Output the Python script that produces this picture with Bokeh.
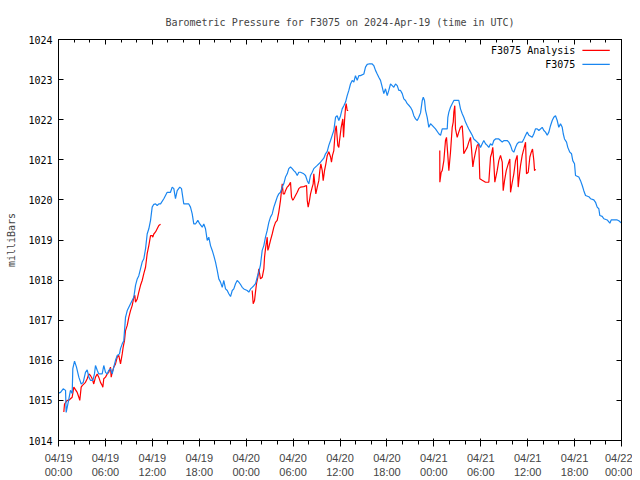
from bokeh.plotting import figure
from bokeh.models import (FixedTicker, LinearAxis, Range1d, Label)
from bokeh.embed import file_html
from bokeh.resources import INLINE

# ---------------- data (hours after 2024-04-19 00:00 UTC, millibars) ----------------
obs_hours = [0.00, 0.26, 0.60, 0.90, 0.98, 1.24, 1.53, 1.75, 1.83, 2.05, 2.30, 2.60, 2.90, 3.16, 3.45,
             3.67, 3.88, 4.09, 4.39, 4.60, 4.73, 4.95, 5.15, 5.59, 5.79, 6.01, 6.23, 6.43, 6.65,
             6.87, 7.07, 7.29, 7.51, 7.80, 7.93, 8.15, 8.35, 8.57, 8.79, 9.21, 9.63, 9.85, 10.07,
             10.27, 10.70, 10.91, 11.13, 11.34, 11.55, 11.77, 11.98, 12.19, 12.41, 12.62, 12.83,
             13.05, 13.47, 13.90, 14.32, 14.54, 14.75, 14.96, 15.18, 15.51, 15.73, 16.02, 16.46,
             16.66, 16.88, 17.10, 17.30, 17.52, 17.82, 18.07, 18.38, 18.58, 18.80, 19.02, 19.22,
             19.44, 19.66, 19.86, 20.08, 20.30, 20.50, 20.72, 20.94, 21.14, 21.36, 21.58, 21.78,
             22.00, 22.22, 22.42, 22.64, 22.85, 23.06, 23.28, 23.49, 23.70, 24.13, 24.34, 24.56,
             24.77, 24.98, 25.20, 25.41, 25.62, 25.83, 26.05, 26.26, 26.47, 26.69, 26.90, 27.11,
             27.33, 27.54, 27.75, 27.97, 28.17, 28.39, 28.61, 28.81, 29.03, 29.25, 29.45, 29.67,
             29.89, 30.09, 30.31, 30.53, 30.73, 30.95, 31.37, 31.59, 31.81, 32.01, 32.23, 32.45,
             32.65, 33.09, 33.51, 33.93, 34.15, 34.37, 34.57, 34.79, 35.00, 35.21, 35.43, 35.64,
             35.85, 36.07, 36.28, 36.49, 36.71, 36.92, 37.13, 37.34, 37.56, 37.77, 37.98, 38.20,
             38.41, 38.62, 39.05, 39.26, 39.48, 39.68, 40.12, 40.32, 40.54, 40.76, 40.96, 41.18,
             41.40, 41.60, 41.82, 42.04, 42.24, 42.46, 42.68, 42.88, 43.10, 43.32, 43.52, 43.74,
             43.96, 44.16, 44.38, 44.60, 44.80, 45.02, 45.24, 45.44, 45.66, 45.88, 46.08, 46.30,
             46.52, 46.65, 46.81, 46.94, 47.15, 47.36, 47.58, 47.79, 48.21, 48.64, 48.86, 49.07,
             49.71, 49.79, 49.92, 50.13, 50.35, 50.56, 51.19, 51.41, 51.63, 51.83, 52.05, 52.27,
             52.47, 52.69, 52.91, 53.11, 53.33, 53.55, 53.75, 53.97, 54.19, 54.39, 54.61, 54.83,
             55.03, 55.25, 55.47, 55.67, 55.89, 56.31, 56.53, 56.75, 56.95, 57.38, 57.59, 57.81,
             58.03, 58.23, 58.45, 58.66, 58.87, 59.30, 59.51, 59.73, 59.94, 60.15, 60.58, 60.79,
             61.00, 61.22, 61.43, 61.86, 62.07, 62.28, 62.50, 62.71, 62.92, 63.14, 63.34, 63.56,
             63.78, 63.98, 64.20, 64.42, 64.55, 64.71, 64.97, 65.13, 65.39, 65.61, 65.77, 65.99,
             66.12, 66.54, 66.76, 66.98, 67.18, 67.40, 67.82, 68.04, 68.46, 68.68, 68.89, 69.10,
             69.23, 69.53, 69.74, 70.17, 70.51, 70.68, 71.45, 71.66, 72.00]
obs_mb = [1015.18, 1015.20, 1015.29, 1015.25, 1014.70, 1014.95, 1015.25, 1015.17, 1015.79, 1015.98,
          1015.83, 1015.58, 1015.41, 1015.45, 1015.70, 1015.76, 1015.58, 1015.50, 1015.50, 1015.66,
          1015.87, 1015.75, 1015.66, 1015.66, 1015.87, 1015.70, 1015.66, 1015.75, 1015.79, 1015.66,
          1015.83, 1016.00, 1016.12, 1016.16, 1016.29, 1016.41, 1016.49, 1017.07, 1017.24, 1017.41,
          1017.57, 1017.87, 1018.03, 1018.11, 1018.45, 1018.53, 1018.78, 1019.15, 1019.28, 1019.49,
          1019.82, 1019.89, 1019.90, 1019.86, 1019.90, 1019.90, 1020.03, 1020.19, 1020.19, 1020.32,
          1020.28, 1020.03, 1020.23, 1020.32, 1020.28, 1019.90, 1019.90, 1019.90, 1019.82, 1019.65,
          1019.40, 1019.40, 1019.49, 1019.40, 1019.32, 1019.40, 1019.28, 1018.99, 1019.07, 1018.86,
          1018.74, 1018.61, 1018.45, 1018.24, 1018.03, 1017.95, 1017.82, 1017.99, 1017.78, 1017.74,
          1017.66, 1017.59, 1017.74, 1017.78, 1017.91, 1017.99, 1017.95, 1017.89, 1017.82, 1017.78,
          1017.74, 1017.70, 1017.78, 1017.82, 1017.86, 1017.91, 1018.07, 1018.20, 1018.38, 1018.74,
          1018.86, 1019.07, 1019.24, 1019.44, 1019.57, 1019.65, 1019.82, 1019.94, 1020.07, 1020.15,
          1020.19, 1020.32, 1020.40, 1020.57, 1020.65, 1020.78, 1020.82, 1020.78, 1020.73, 1020.69,
          1020.61, 1020.69, 1020.69, 1020.65, 1020.61, 1020.48, 1020.40, 1020.61, 1020.69, 1020.78,
          1020.86, 1020.94, 1021.04, 1021.15, 1021.21, 1021.36, 1021.48, 1021.61, 1021.73, 1022.06,
          1022.10, 1021.98, 1022.10, 1022.27, 1022.35, 1022.44, 1022.60, 1022.73, 1022.89, 1022.98,
          1022.94, 1023.10, 1022.98, 1023.10, 1023.10, 1023.14, 1023.31, 1023.38, 1023.39, 1023.39,
          1023.35, 1023.23, 1023.14, 1023.06, 1022.98, 1022.81, 1022.65, 1022.77, 1022.60, 1022.73,
          1022.89, 1022.85, 1022.81, 1022.89, 1022.85, 1022.73, 1022.73, 1022.65, 1022.52, 1022.48,
          1022.40, 1022.36, 1022.31, 1022.23, 1022.10, 1022.02, 1021.98, 1022.06, 1022.17, 1022.48,
          1022.56, 1022.48, 1022.23, 1022.06, 1021.81, 1021.90, 1021.86, 1021.77, 1021.65, 1021.61,
          1021.77, 1021.77, 1022.06, 1022.19, 1022.31, 1022.40, 1022.48, 1022.48, 1022.27, 1022.15,
          1022.06, 1021.94, 1021.85, 1021.77, 1021.69, 1021.61, 1021.52, 1021.48, 1021.44, 1021.40,
          1021.31, 1021.40, 1021.48, 1021.40, 1021.36, 1021.31, 1021.40, 1021.36, 1021.48, 1021.52,
          1021.52, 1021.48, 1021.44, 1021.48, 1021.48, 1021.44, 1021.36, 1021.23, 1021.19, 1021.31,
          1021.40, 1021.44, 1021.44, 1021.52, 1021.61, 1021.69, 1021.61, 1021.56, 1021.65, 1021.77,
          1021.77, 1021.73, 1021.81, 1021.73, 1021.69, 1021.61, 1021.69, 1021.85, 1021.98, 1022.06,
          1022.10, 1021.98, 1021.81, 1021.90, 1021.81, 1021.65, 1021.52, 1021.44, 1021.31, 1021.19,
          1021.15, 1020.98, 1020.90, 1020.61, 1020.57, 1020.48, 1020.36, 1020.23, 1020.11, 1020.08,
          1020.03, 1020.00, 1019.94, 1019.82, 1019.78, 1019.61, 1019.59, 1019.53, 1019.50, 1019.42,
          1019.50, 1019.50, 1019.48, 1019.42]

nan = float("nan")
ana_hours = [0.68, 0.77, 1.11, 1.32, 1.53, 1.75, 1.96, 2.39, 2.60, 2.72, 2.90, 3.03, 3.45, 3.67, 3.88,
             4.09, 4.31, 4.51, 4.73, 4.95, 5.15, 5.37, 5.59, 5.67, 5.79, 6.01, 6.23, 6.43, 6.65, 6.74,
             6.87, 7.07, 7.29, 7.51, 7.71, 7.93, 8.15, 8.27, 8.44, 8.57, 8.79, 8.99, 9.21, 9.43, 9.63,
             9.76, 9.85, 10.07, 10.27, 10.49, 10.70, 10.91, 11.13, 11.34, 11.55, 11.77, 11.98, 12.06,
             12.19, 12.41, 12.62, 12.83, 13.05,
             nan,
             24.77, 24.90, 25.07, 25.19, 25.32, 25.49, 25.62, 25.83, 26.05, 26.26, 26.35, 26.47,
             26.69, 26.77, 26.90, 27.11, 27.33, 27.54, 27.75, 27.97, 28.17, 28.39, 28.61, 28.74,
             28.90, 29.03, 29.25, 29.45, 29.67, 29.80, 29.96, 30.09, 30.31, 30.53, 30.73, 30.95,
             31.37, 31.72, 31.81, 31.93, 32.10, 32.23, 32.45, 32.57, 32.65, 32.78, 32.91, 33.09,
             33.29, 33.42, 33.55, 33.73, 33.85, 34.02, 34.19, 34.37, 34.57, 34.79, 34.91, 35.04,
             35.21, 35.39, 35.52, 35.60, 35.72, 35.85, 35.94, 36.15, 36.36, 36.45, 36.58, 36.71,
             36.79, 36.92, 37.05,
             nan,
             48.76, 48.77, 48.94, 49.07, 49.28, 49.49, 49.62, 49.79, 49.92, 50.13, 50.35, 50.48,
             50.56, 50.68, 50.77, 50.99, 51.19, 51.41, 51.63, 51.76, 51.83, 52.05, 52.27, 52.47,
             52.69, 52.82, 52.99, 53.11, 53.33, 53.55, 53.75, 53.88, 54.19, 54.61, 55.03, 55.25,
             55.38, 55.54, 55.67, 55.80, 56.10, 56.31, 56.53, 56.75, 56.87, 57.04, 57.26, 57.46,
             57.72, 57.81, 58.03, 58.23, 58.45, 58.66, 58.79, 58.96, 59.09, 59.30, 59.51, 59.73,
             59.85, 60.07, 60.28, 60.46, 60.62, 60.79, 60.88, 61.00]
ana_mb = [1014.71, 1014.91, 1015.00, 1015.00, 1015.04, 1015.08, 1015.33, 1015.20, 1015.08, 1015.00,
          1015.33, 1015.37, 1015.45, 1015.54, 1015.66, 1015.62, 1015.54, 1015.41, 1015.58, 1015.66,
          1015.58, 1015.45, 1015.37, 1015.33, 1015.54, 1015.58, 1015.66, 1015.70, 1015.83, 1015.58,
          1015.70, 1015.83, 1015.91, 1016.08, 1016.12, 1015.91, 1016.16, 1016.33, 1016.49, 1016.74,
          1016.87, 1017.07, 1017.24, 1017.37, 1017.57, 1017.62, 1017.45, 1017.53, 1017.70, 1017.87,
          1017.99, 1018.16, 1018.32, 1018.66, 1018.86, 1019.11, 1019.11, 1019.07, 1019.15, 1019.20,
          1019.28, 1019.36, 1019.39,
          nan,
          1017.74, 1017.41, 1017.49, 1017.70, 1017.91, 1018.07, 1018.28, 1018.03, 1018.07, 1018.28,
          1018.57, 1018.78, 1019.07, 1018.74, 1018.82, 1018.99, 1019.15, 1019.32, 1019.44, 1019.49,
          1019.69, 1019.99, 1020.40, 1020.15, 1020.15, 1020.23, 1020.32, 1020.36, 1020.44, 1020.07,
          1019.99, 1020.03, 1020.11, 1020.19, 1020.28, 1020.32, 1020.33, 1020.36, 1019.99, 1019.82,
          1019.99, 1020.15, 1020.32, 1020.40, 1020.65, 1020.40, 1020.15, 1020.32, 1020.48, 1020.73,
          1020.90, 1020.73, 1020.48, 1020.73, 1020.90, 1021.11, 1021.20, 1021.07, 1020.94, 1021.11,
          1021.23, 1021.73, 1021.85, 1021.65, 1021.36, 1021.31, 1021.48, 1021.81, 1022.02, 1021.56,
          1021.98, 1022.31, 1022.40, 1022.23, 1022.23,
          nan,
          1021.23, 1020.44, 1020.69, 1020.73, 1020.98, 1021.48, 1021.56, 1021.11, 1020.73, 1021.19,
          1021.81, 1021.94, 1022.19, 1022.35, 1021.77, 1021.56, 1021.69, 1021.81, 1021.85, 1021.48,
          1021.15, 1021.23, 1021.31, 1021.44, 1021.56, 1021.27, 1020.82, 1020.98, 1021.19, 1021.36,
          1021.40, 1020.53, 1020.49, 1020.44, 1020.44, 1021.07, 1021.15, 1021.31, 1020.94, 1020.44,
          1020.73, 1020.98, 1021.11, 1020.94, 1020.23, 1020.48, 1020.73, 1020.86, 1021.02, 1020.19,
          1020.44, 1020.65, 1020.98, 1021.11, 1020.32, 1020.65, 1020.86, 1021.11, 1021.27, 1021.44,
          1020.65, 1020.69, 1021.07, 1021.19, 1021.27, 1020.98, 1020.73, 1020.77]

x_tick_hours = [0, 6, 12, 18, 24, 30, 36, 42, 48, 54, 60, 66, 72]
x_tick_labels = ["04/19\n00:00", "04/19\n06:00", "04/19\n12:00", "04/19\n18:00",
                 "04/20\n00:00", "04/20\n06:00", "04/20\n12:00", "04/20\n18:00",
                 "04/21\n00:00", "04/21\n06:00", "04/21\n12:00", "04/21\n18:00",
                 "04/22\n00:00"]
x_minor_hours = [h for h in range(0, 73, 2)]
y_ticks = [1014, 1015, 1016, 1017, 1018, 1019, 1020, 1021, 1022, 1023, 1024]

series_names = ["F3075 Analysis", "F3075"]
series_colors = ["#ff0000", "#1a86f0"]

FONT = "DejaVu Sans Mono"
FS = "10px"

p = figure(output_backend="svg", toolbar_location=None,
           x_range=Range1d(0, 72), y_range=Range1d(1014, 1024),
           title="Barometric Pressure for F3075 on 2024-Apr-19 (time in UTC)",
           min_border_left=58, min_border_right=11, min_border_top=39, min_border_bottom=30)
p.frame_width = 563
p.frame_height = 401
p.title.align = "center"
p.title.text_font = FONT
p.title.text_font_size = FS
p.title.text_font_style = "normal"
p.title.standoff = 24
p.xgrid.visible = False
p.ygrid.visible = False
p.outline_line_color = "black"
p.outline_line_width = 1
p.background_fill_color = "white"
p.border_fill_color = "white"

xt = FixedTicker(ticks=x_tick_hours, minor_ticks=x_minor_hours)
yt = FixedTicker(ticks=y_ticks, minor_ticks=[])
overrides = {h: lab for h, lab in zip(x_tick_hours, x_tick_labels)}

for ax in p.xaxis:
    ax.ticker = xt
    ax.major_label_overrides = overrides
for ax in p.yaxis:
    ax.ticker = yt
    ax.axis_label = "milliBars"
    ax.axis_label_text_font_style = "normal"
    ax.axis_label_standoff = 8

# mirrored tick marks (no labels) on top and right, as in the reference
top = LinearAxis(ticker=xt, major_label_overrides={h: "" for h in x_tick_hours},
                 major_label_standoff=0)
right = LinearAxis(ticker=yt, major_label_overrides={v: "" for v in y_ticks},
                   major_label_standoff=0)
p.add_layout(top, "above")
p.add_layout(right, "right")

for ax in [p.xaxis[0], p.yaxis[0], top, right]:
    ax.major_tick_in = 5
    ax.major_tick_out = 0
    ax.minor_tick_in = 3
    ax.minor_tick_out = 0
    ax.axis_line_color = "black"
    ax.major_tick_line_color = "black"
    ax.minor_tick_line_color = "black"
    ax.major_label_text_font = FONT
    ax.axis_label_text_font = FONT
    ax.axis_label_text_font_size = FS
    ax.major_label_text_color = "black"
    ax.major_label_text_font_size = FS

p.xaxis[0].major_label_standoff = 3
p.yaxis[0].major_label_standoff = 6

p.line(ana_hours, ana_mb, line_color=series_colors[0], line_width=1.2)
p.line(obs_hours, obs_mb, line_color=series_colors[1], line_width=1.2)

# gnuplot-style key (text left of sample line), top right
key_y = [1023.73, 1023.38]
for name, col, ky in zip(series_names, series_colors, key_y):
    p.add_layout(Label(x=66.1, y=ky, text=name, text_align="right", text_baseline="middle",
                       text_font=FONT, text_font_size=FS, text_color="black"))
    p.segment(x0=[67.0], y0=[ky], x1=[70.5], y1=[ky], line_color=col, line_width=1.2)

open("out.html", "w").write(file_html(p, INLINE))
